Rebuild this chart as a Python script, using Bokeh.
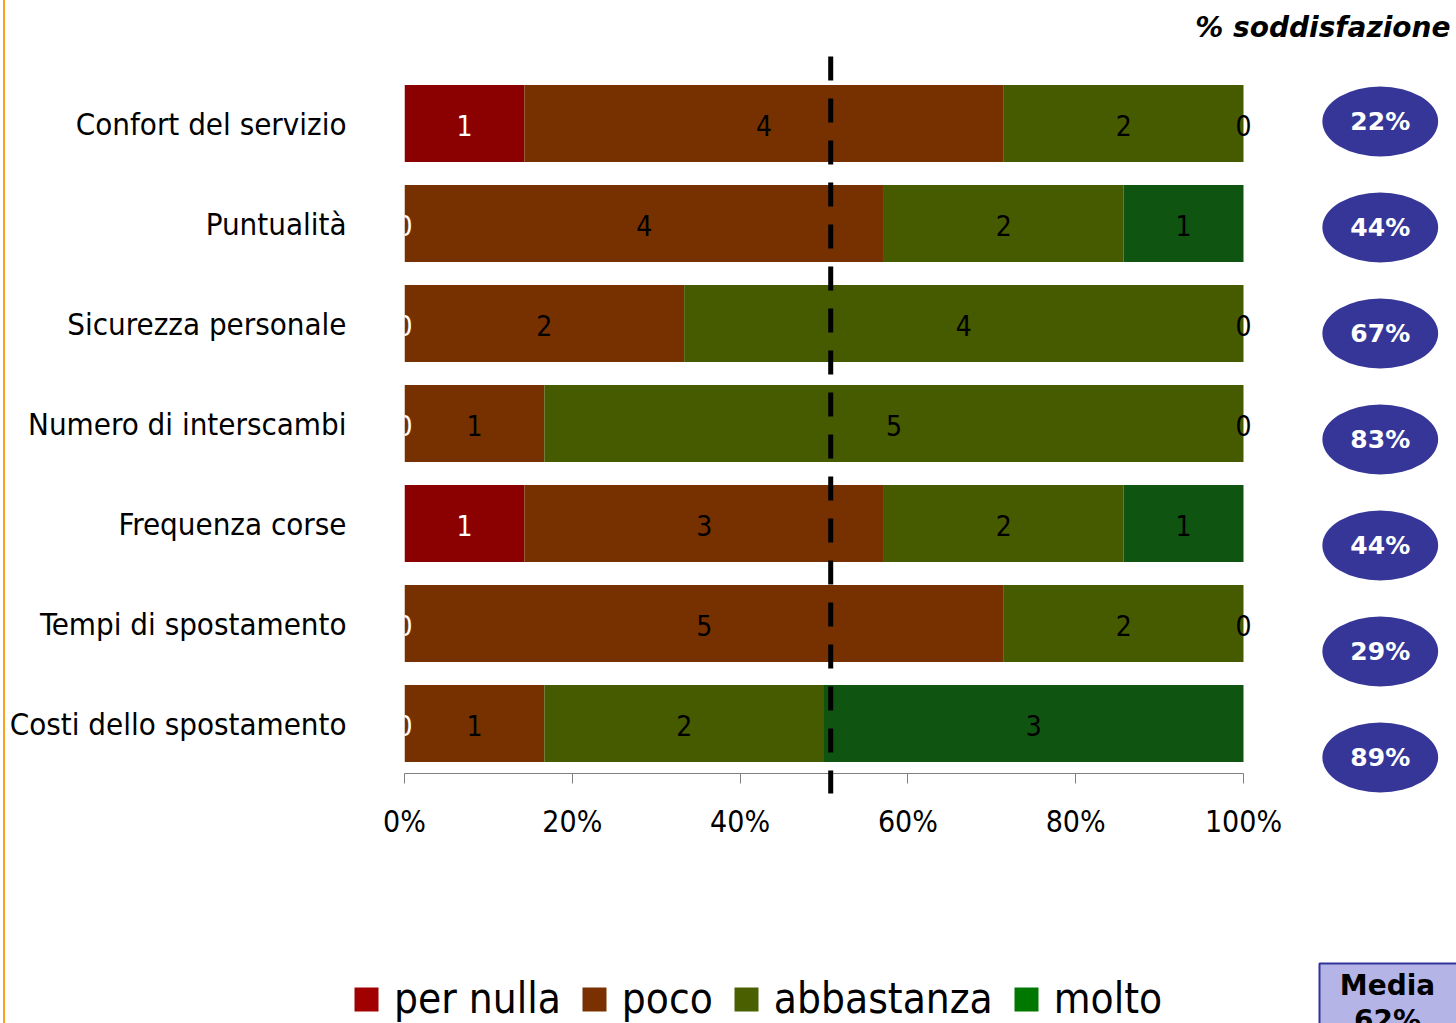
import numpy as np
from bokeh.plotting import figure
from bokeh.models import (ColumnDataSource, Range1d, FixedTicker, NumeralTickFormatter,
                          Legend, LegendItem, Div)
from bokeh.layouts import column, row
from bokeh.embed import file_html
from bokeh.resources import INLINE
from bokeh.core.properties import value

# ---------------- data ----------------
categories = ["Confort del servizio", "Puntualità", "Sicurezza personale",
              "Numero di interscambi", "Frequenza corse", "Tempi di spostamento",
              "Costi dello spostamento"]
levels = ["per nulla", "poco", "abbastanza", "molto"]
per_nulla = [1, 0, 0, 0, 1, 0, 0]
poco = [4, 4, 2, 1, 3, 5, 1]
abbastanza = [2, 2, 4, 5, 2, 2, 2]
molto = [0, 1, 0, 0, 1, 0, 3]
soddisfazione = ["22%", "44%", "67%", "83%", "44%", "29%", "89%"]
satisfaction_title = "% soddisfazione"
media_label = "Media"
media_value = "62%"
reference_line = 0.508
x_ticks = [0, 0.2, 0.4, 0.6, 0.8, 1.0]

# ---------------- styles ----------------
bar_colors = ["#8B0000", "#773100", "#465A00", "#0F5410"]
legend_colors = ["#A00000", "#7A3000", "#4A6000", "#007800"]
label_colors = ["white", "black", "black", "black"]
ellipse_color = "#363699"
narrow_font = "DejaVu Sans Condensed"

# ---------------- layout constants ----------------
X0 = 5                  # page x where the figures start
FIG_W = 1456 - X0
BAR_LEFT = 404          # page x of 0 %
BAR_SPAN = 839          # px for 0..100 %
LEFT_BORDER = BAR_LEFT - X0
FRAME_W = FIG_W - LEFT_BORDER
P1_FRAME_H = 773
P1_H = 878
P2_H = 1023 - P1_H
LABEL_DY = 0.02

counts = np.array([per_nulla, poco, abbastanza, molto], dtype=float)
totals = counts.sum(axis=0)
fracs = counts / totals
rights = np.cumsum(fracs, axis=0)
lefts = rights - fracs
rows = np.arange(len(categories))

p1 = figure(width=FIG_W, height=P1_H,
            x_range=Range1d(0, FRAME_W / BAR_SPAN), y_range=Range1d(6.5, -1.23),
            min_border_left=LEFT_BORDER, min_border_right=0, min_border_top=0,
            min_border_bottom=P1_H - P1_FRAME_H, toolbar_location=None,
            output_backend="svg")
p1.frame_align = False
p1.grid.visible = False
p1.outline_line_color = None

sources = []
for k, lev in enumerate(levels):
    src = ColumnDataSource(dict(
        y=rows, ty=rows + LABEL_DY, left=lefts[k], right=rights[k],
        mid=(lefts[k] + rights[k]) / 2,
        txt=[str(int(c)) for c in counts[k]]))
    sources.append(src)
    p1.hbar(y="y", left="left", right="right", height=0.77, source=src,
            fill_color=bar_colors[k], line_color=None)
for k, src in enumerate(sources):
    p1.text(x="mid", y="ty", text="txt", source=src, text_align="center",
            text_baseline="middle", text_color=label_colors[k],
            text_font=value(narrow_font), text_font_size="28px")

# dashed reference line
p1.line(x=[reference_line, reference_line], y=[-0.67, 6.7], line_color="black",
        line_width=5, line_dash="24 18", level="overlay")

# satisfaction ellipses
ell_src = ColumnDataSource(dict(x=[1.163] * len(rows), y=rows * 1.06 - 0.02,
                                txt=soddisfazione))
p1.ellipse(x="x", y="y", width=0.138, height=0.70, source=ell_src,
           fill_color=ellipse_color, line_color=None, level="overlay")
p1.text(x="x", y="y", text="txt", source=ell_src, text_align="center",
        text_baseline="middle", text_color="white", text_font=value("DejaVu Sans"),
        text_font_style="bold", text_font_size="25px", level="overlay")

p1.text(x=[1.2467], y=[-0.96], text=[satisfaction_title], text_align="right",
        text_baseline="middle", text_color="black", text_font=value("DejaVu Sans"),
        text_font_style="bold italic", text_font_size="28px")

# axes
xa = p1.xaxis[0]
xa.ticker = FixedTicker(ticks=x_ticks)
xa.formatter = NumeralTickFormatter(format="0%")
xa.bounds = (0, 1)
xa.axis_line_color = "#808080"
xa.major_tick_line_color = "#808080"
xa.major_tick_out = 10
xa.major_tick_in = 0
xa.minor_tick_line_color = None
xa.major_label_text_font = narrow_font
xa.major_label_text_font_size = "30px"
xa.major_label_text_color = "black"
xa.major_label_standoff = 20

ya = p1.yaxis[0]
ya.ticker = FixedTicker(ticks=list(rows))
ya.major_label_overrides = {int(i): c for i, c in zip(rows, categories)}
ya.axis_line_color = None
ya.major_tick_line_color = None
ya.minor_tick_line_color = None
ya.major_tick_out = 0
ya.major_label_standoff = 58
ya.major_label_text_font = narrow_font
ya.major_label_text_font_size = "31px"
ya.major_label_text_color = "black"

# ---------------- bottom figure: legend + media ----------------
p2 = figure(width=FIG_W, height=P2_H, x_range=Range1d(X0, 1456), y_range=Range1d(1023, P1_H),
            min_border=0, toolbar_location=None, output_backend="svg",
            x_axis_type=None, y_axis_type=None)
p2.frame_align = False
p2.grid.visible = False
p2.outline_line_color = None

items = []
for k, lev in enumerate(levels):
    r = p2.quad(left=[-50], right=[-40], top=[-50], bottom=[-40],
                fill_color=legend_colors[k], line_color=None)
    items.append(LegendItem(label=lev, renderers=[r]))
leg = Legend(items=items, orientation="horizontal", location=(346, 0),
             glyph_width=30, glyph_height=30, label_standoff=13, spacing=18,
             padding=0, margin=0, border_line_color=None, background_fill_alpha=0,
             label_text_font=narrow_font, label_text_font_size="42px",
             label_text_color="black", label_height=30)
p2.add_layout(leg)

p2.quad(left=[1319], right=[1480], top=[963], bottom=[1060], fill_color="#B4B4E6",
        line_color="#33339A", line_width=2)
p2.text(x=[1387, 1387], y=[985, 1020], text=[media_label, media_value],
        text_align="center", text_baseline="middle", text_color="black",
        text_font=value("DejaVu Sans"), text_font_style="bold", text_font_size="28px")

bar = Div(width=2, height=1023, margin=(0, 0, 0, 3),
          styles={"background-color": "#F7A21B"})
layout = row(bar, column(p1, p2))

open("out.html", "w").write(file_html(layout, INLINE))
